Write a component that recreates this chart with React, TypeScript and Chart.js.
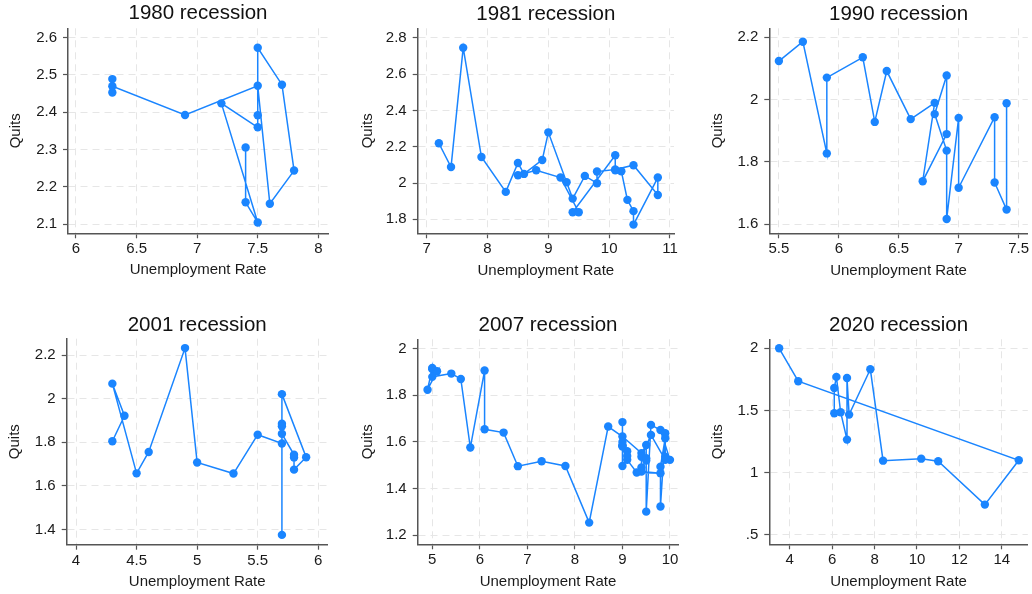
import React, { useEffect, useRef } from "react";
import { Chart, registerables } from "chart.js";

Chart.register(...registerables);
Chart.defaults.font.family = '"Liberation Sans", Arial, Helvetica, sans-serif';
Chart.defaults.color = "#1a1a1a";

// ---------------- data ----------------
const titles = ["1980 recession", "1981 recession", "1990 recession", "2001 recession", "2007 recession", "2020 recession"];

const unemp1980 = [6.3, 6.3, 6.3, 6.9, 7.5, 7.6, 7.8, 7.7, 7.5, 7.5, 7.5, 7.2, 7.5, 7.4, 7.4];
const quits1980 = [2.489, 2.453, 2.47, 2.393, 2.471, 2.155, 2.244, 2.474, 2.573, 2.392, 2.36, 2.424, 2.105, 2.159, 2.306];

const unemp1981 = [7.2, 7.4, 7.6, 7.9, 8.3, 8.5, 8.6, 8.9, 9.0, 9.3, 9.4, 9.6, 9.8, 9.8, 10.1, 10.4, 10.8, 10.8, 10.4, 10.4, 10.3, 10.2, 10.1, 10.1, 9.4, 9.5, 9.2, 8.8, 8.5];
const quits1981 = [2.219, 2.088, 2.745, 2.143, 1.951, 2.11, 2.05, 2.127, 2.279, 2.004, 1.914, 2.039, 1.999, 2.063, 2.074, 2.098, 1.934, 2.03, 1.771, 1.845, 1.907, 2.065, 2.07, 2.153, 1.839, 1.839, 2.03, 2.07, 2.043];

const unemp1990 = [5.5, 5.7, 5.9, 5.9, 6.2, 6.3, 6.4, 6.6, 6.8, 6.7, 6.9, 6.9, 6.8, 6.9, 6.9, 7.0, 7.0, 7.3, 7.3, 7.4, 7.4];
const quits1990 = [2.123, 2.185, 1.827, 2.07, 2.135, 1.928, 2.091, 1.937, 1.989, 1.738, 1.889, 2.077, 1.953, 1.836, 1.617, 1.941, 1.717, 1.943, 1.734, 1.647, 1.988];

const unemp2001 = [4.3, 4.4, 4.3, 4.5, 4.6, 4.9, 5.0, 5.3, 5.5, 5.7, 5.7, 5.7, 5.7, 5.9, 5.8, 5.8, 5.8, 5.7, 5.7];
const quits2001 = [1.805, 1.922, 2.069, 1.658, 1.756, 2.232, 1.708, 1.657, 1.835, 1.795, 1.885, 1.874, 2.021, 1.732, 1.675, 1.731, 1.743, 1.839, 1.376];

const unemp2007 = [5.0, 5.0, 4.9, 5.1, 5.0, 5.4, 5.6, 5.8, 6.1, 6.1, 6.5, 6.8, 7.3, 7.8, 8.3, 8.7, 9.0, 9.4, 9.5, 9.5, 9.6, 9.8, 10.0, 9.9, 9.9, 9.8, 9.8, 9.9, 9.9, 9.6, 9.4, 9.4, 9.5, 9.5, 9.4, 9.8, 9.3, 9.1, 9.0, 9.0, 9.1, 9.0, 9.1, 9.0, 9.0, 9.0];
const quits2007 = [1.912, 1.917, 1.824, 1.903, 1.879, 1.893, 1.87, 1.576, 1.906, 1.654, 1.64, 1.496, 1.517, 1.497, 1.254, 1.666, 1.623, 1.552, 1.587, 1.301, 1.673, 1.651, 1.523, 1.537, 1.616, 1.494, 1.323, 1.637, 1.523, 1.63, 1.536, 1.49, 1.52, 1.53, 1.473, 1.466, 1.469, 1.523, 1.497, 1.584, 1.56, 1.585, 1.54, 1.58, 1.6, 1.685];

const unemp2020 = [3.5, 4.4, 14.8, 13.2, 11.0, 10.2, 8.4, 7.8, 6.8, 6.7, 6.7, 6.4, 6.2, 6.1, 6.1];
const quits2020 = [2.0, 1.735, 1.1, 0.744, 1.092, 1.113, 1.097, 1.831, 1.467, 1.761, 1.266, 1.486, 1.77, 1.681, 1.478];

const xTicks1980 = [6, 6.5, 7, 7.5, 8];
const yTicks1980 = [2.1, 2.2, 2.3, 2.4, 2.5, 2.6];
const xTicks1981 = [7, 8, 9, 10, 11];
const yTicks1981 = [1.8, 2.0, 2.2, 2.4, 2.6, 2.8];
const xTicks1990 = [5.5, 6, 6.5, 7, 7.5];
const yTicks1990 = [1.6, 1.8, 2.0, 2.2];
const xTicks2001 = [4, 4.5, 5, 5.5, 6];
const yTicks2001 = [1.4, 1.6, 1.8, 2.0, 2.2];
const xTicks2007 = [5, 6, 7, 8, 9, 10];
const yTicks2007 = [1.2, 1.4, 1.6, 1.8, 2.0];
const xTicks2020 = [4, 6, 8, 10, 12, 14];
const yTicks2020 = [0.5, 1, 1.5, 2];

const xRanges = [[5.934, 8.08], [6.852, 11.066], [5.42, 7.577], [3.923, 6.078], [4.693, 10.175], [3.036, 15.225]];
const yRanges = [[2.076, 2.625], [1.723, 2.852], [1.571, 2.228], [1.331, 2.275], [1.161, 2.04], [0.425, 2.072]];

const seriesX = [unemp1980, unemp1981, unemp1990, unemp2001, unemp2007, unemp2020];
const seriesY = [quits1980, quits1981, quits1990, quits2001, quits2007, quits2020];
const xTickSets = [xTicks1980, xTicks1981, xTicks1990, xTicks2001, xTicks2007, xTicks2020];
const yTickSets = [yTicks1980, yTicks1981, yTicks1990, yTicks2001, yTicks2007, yTicks2020];

// ---------------- layout (pixels) ----------------
type Lay = { cx: number; cy: number; cw: number; ch: number; L: number; R: number; T: number; B: number; titleC: number; quitsC: number; xTitleC: number };
const layouts: Lay[] = [
  { cx: 0, cy: 0, cw: 344, ch: 297, L: 68, R: 328, T: 28.3, B: 233.3, titleC: 13.8, quitsC: 15.7, xTitleC: 270 },
  { cx: 344, cy: 0, cw: 344, ch: 297, L: 417.7, R: 674, T: 28.3, B: 233.3, titleC: 14, quitsC: 368.3, xTitleC: 270.5 },
  { cx: 688, cy: 0, cw: 344, ch: 297, L: 769.3, R: 1031, T: 28.3, B: 233.3, titleC: 14, quitsC: 718.3, xTitleC: 270.5 },
  { cx: 0, cy: 297, cw: 344, ch: 297, L: 66.7, R: 327.7, T: 338.7, B: 544.7, titleC: 325.3, quitsC: 15.3, xTitleC: 582 },
  { cx: 344, cy: 297, cw: 344, ch: 297, L: 417.7, R: 678.3, T: 339.3, B: 544.3, titleC: 325.3, quitsC: 368.3, xTitleC: 582 },
  { cx: 688, cy: 297, cw: 344, ch: 297, L: 769.3, R: 1031, T: 339.3, B: 544.3, titleC: 325.3, quitsC: 718.3, xTitleC: 582 },
];

const BLUE = "#1a85ff";
const GRID = "#e6e6e6";
const AXIS = "#555555";
const TICK_FONT = 15;
const AXIS_FONT = 15;
const TITLE_FONT = 20.5;

function fmt(v: number): string {
  let s = String(Math.round(v * 100) / 100);
  if (s.startsWith("0.")) s = s.slice(1);
  return s;
}

function Panel({ idx }: { idx: number }) {
  const ref = useRef<HTMLCanvasElement>(null);
  const lay = layouts[idx];
  useEffect(() => {
    const xs = seriesX[idx];
    const ys = seriesY[idx];
    const xt = xTickSets[idx];
    const yt = yTickSets[idx];
    const halfAxis = (AXIS_FONT * 1.2) / 2;
    const halfTitle = (TITLE_FONT * 1.2) / 2;
    const chart = new Chart(ref.current as HTMLCanvasElement, {
      type: "scatter",
      data: {
        datasets: [
          {
            data: xs.map((x, i) => ({ x, y: ys[i] })),
            showLine: true,
            borderColor: BLUE,
            backgroundColor: BLUE,
            borderWidth: 1.5,
            pointRadius: 4.2,
            pointBorderWidth: 0,
            pointHoverRadius: 4.2,
            clip: false as any,
          },
        ],
      },
      options: {
        animation: false,
        responsive: false,
        events: [],
        layout: { padding: { top: 0, left: 0, bottom: 0, right: lay.cx + lay.cw - lay.R } },
        plugins: {
          legend: { display: false },
          tooltip: { enabled: false },
          title: {
            display: true,
            text: titles[idx],
            fullSize: false,
            color: "#111",
            font: { size: TITLE_FONT, weight: "normal" },
            padding: { top: lay.titleC - lay.cy - halfTitle, bottom: lay.T - lay.titleC - halfTitle },
          },
        },
        scales: {
          x: {
            type: "linear",
            min: xRanges[idx][0],
            max: xRanges[idx][1],
            afterBuildTicks: (s: any) => {
              s.ticks = xt.map((v) => ({ value: v }));
            },
            afterFit: (s: any) => {
              s.height = lay.cy + lay.ch - lay.B;
              s.paddingLeft = 0;
              s.paddingRight = 0;
            },
            ticks: { callback: (v: any) => fmt(Number(v)), font: { size: TICK_FONT }, color: "#1a1a1a", padding: 2, maxRotation: 0, autoSkip: false },
            grid: { color: GRID, lineWidth: 1, tickLength: 5, tickColor: AXIS, tickWidth: 1.2, tickBorderDash: [], drawTicks: true },
            border: { display: true, color: AXIS, width: 1.5, dash: [7, 5] },
            title: {
              display: true,
              text: "Unemployment Rate",
              color: "#1a1a1a",
              font: { size: AXIS_FONT },
              padding: { top: 0, bottom: lay.cy + lay.ch - lay.xTitleC - halfAxis },
            },
          },
          y: {
            type: "linear",
            min: yRanges[idx][0],
            max: yRanges[idx][1],
            afterBuildTicks: (s: any) => {
              s.ticks = yt.map((v) => ({ value: v }));
            },
            afterFit: (s: any) => {
              s.width = lay.L - lay.cx;
              s.paddingTop = 0;
              s.paddingBottom = 0;
            },
            ticks: { callback: (v: any) => fmt(Number(v)), font: { size: TICK_FONT }, color: "#1a1a1a", padding: 6, autoSkip: false },
            grid: { color: GRID, lineWidth: 1, tickLength: 5, tickColor: AXIS, tickWidth: 1.2, tickBorderDash: [], drawTicks: true },
            border: { display: true, color: AXIS, width: 1.5, dash: [7, 5] },
            title: {
              display: true,
              text: "Quits",
              color: "#1a1a1a",
              font: { size: AXIS_FONT },
              padding: { top: lay.quitsC - lay.cx - halfAxis, bottom: 0 },
            },
          },
        },
      } as any,
    });
    return () => chart.destroy();
  }, [idx]);
  return (
    <canvas
      ref={ref}
      width={lay.cw}
      height={lay.ch}
      style={{ position: "absolute", left: lay.cx, top: lay.cy, width: lay.cw, height: lay.ch }}
    />
  );
}

export default function App() {
  return (
    <div style={{ position: "absolute", left: 0, top: 0, width: 1032, height: 594, overflow: "hidden", background: "#fff" }}>
      {titles.map((_, i) => (
        <Panel key={i} idx={i} />
      ))}
    </div>
  );
}
